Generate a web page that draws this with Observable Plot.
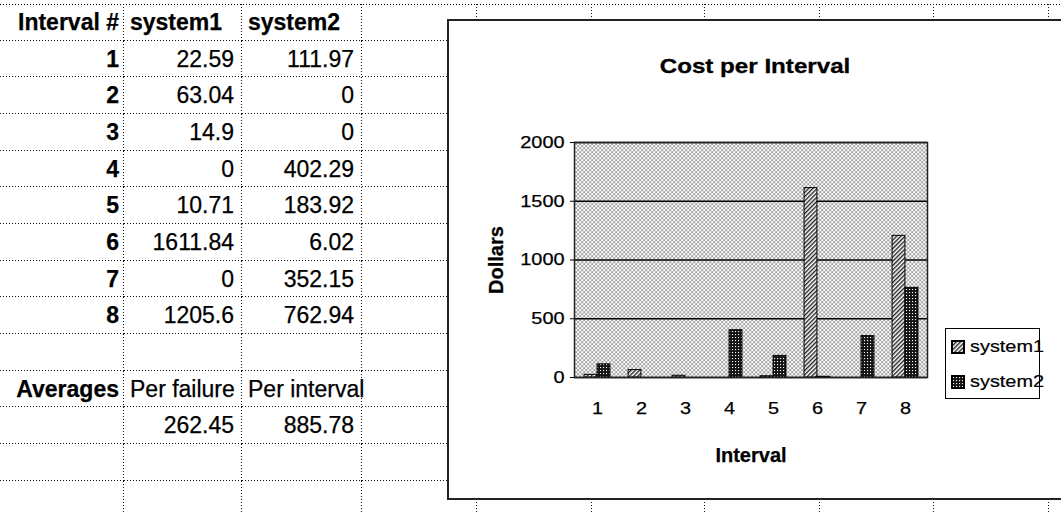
<!DOCTYPE html>
<html><head><meta charset="utf-8">
<script src="https://cdn.jsdelivr.net/npm/d3@7"></script>
<script src="https://cdn.jsdelivr.net/npm/@observablehq/plot@0.6"></script>
<style>
html,body{margin:0;padding:0;background:#fff;}
body{width:1061px;height:512px;overflow:hidden;position:relative;font-family:"Liberation Sans",Arial,sans-serif;color:#000;}
#sheet{position:absolute;left:0;top:4px;display:grid;
  grid-template-columns:124px 118px 120px 115px 115px 113px 115px 114px 115px 115px;
  grid-template-rows:37px 36px 37px 37px 36px 37px 37px 36px 37px 37px 36px 37px 37px 36px;
  background-image:linear-gradient(to right,#000 1px,transparent 1px);
  background-size:3px 1px;background-repeat:repeat-x;background-position:0 0;}
.cell{box-sizing:border-box;font-size:23px;display:flex;align-items:center;white-space:nowrap;
  padding:0 8px 0 6px;-webkit-text-stroke:0.25px #000;
  background-image:linear-gradient(to right,#111 1px,transparent 1px),linear-gradient(to bottom,#111 1px,transparent 1px);
  background-size:3px 1px,1px 3px;background-position:left bottom,right top;background-repeat:repeat-x,repeat-y;}
.c0{padding-right:5px;}
.r{justify-content:flex-end;}
.b{font-weight:bold;}
#chartbox{position:absolute;left:447px;top:19px;width:700px;height:481px;box-sizing:border-box;border:2px solid #222;border-right:none;background:#fff;}
#chartbox svg.plotsvg{position:absolute;left:0;top:0;}
#title{position:absolute;left:306px;top:34px;font-size:21px;line-height:21px;font-weight:bold;white-space:nowrap;transform:translateX(-50%) scaleX(1.15);-webkit-text-stroke:0.3px #000;}
#legbox{position:absolute;left:496px;top:307px;width:95px;height:71px;box-sizing:border-box;border:1px solid #000;background:#fff;padding:0 0 0 6px;}
.leg-swatches{font-family:"Liberation Sans",Arial,sans-serif;font-size:17px;margin:0 !important;color:#000;-webkit-text-stroke:0.2px #000;}
.leg-swatch{height:35px;padding-bottom:0 !important;}
.leg-swatch > svg{margin-right:6px !important;}
.leg-swatch svg rect{stroke:#000;stroke-width:2;}
.leg-swatch-label{transform:scaleX(1.17);transform-origin:left center;overflow:visible !important;}
.plotsvg text{stroke:#000;stroke-width:0.25px;}
[aria-label="x-axis label"] text,[aria-label="y-axis label"] text{font-weight:bold;font-size:20px;}
</style></head>
<body>
<div id="sheet"></div>
<div id="chartbox"><div id="title"></div><div id="legbox"></div></div>
<script>
// ---- data ----
const intervals = [1, 2, 3, 4, 5, 6, 7, 8];
const system1 = [22.59, 63.04, 14.9, 0, 10.71, 1611.84, 0, 1205.6];
const system2 = [111.97, 0, 0, 402.29, 183.92, 6.02, 352.15, 762.94];
const seriesNames = ["system1", "system2"];
const headerLabel = "Interval #";
const averagesLabel = "Averages";
const averageNames = ["Per failure", "Per interval"];
const averageValues = [262.45, 885.78];
const yTicks = [0, 500, 1000, 1500, 2000];
const chartTitle = "Cost per Interval";
const xLabel = "Interval";
const yLabel = "Dollars";

// ---- spreadsheet ----
const nCols = 10, nRows = 14;
const rows = [];
rows.push([{t: headerLabel, b: 1, r: 1}, {t: seriesNames[0], b: 1}, {t: seriesNames[1], b: 1}]);
intervals.forEach((iv, i) => rows.push([{t: iv, b: 1, r: 1}, {t: system1[i], r: 1}, {t: system2[i], r: 1}]));
rows.push([]);
rows.push([{t: averagesLabel, b: 1, r: 1}, {t: averageNames[0]}, {t: averageNames[1]}]);
rows.push([{}, {t: averageValues[0], r: 1}, {t: averageValues[1], r: 1}]);
while (rows.length < nRows) rows.push([]);
const sheet = document.getElementById("sheet");
rows.forEach(row => {
  for (let c = 0; c < nCols; c++) {
    const spec = row[c] || {};
    const d = document.createElement("div");
    d.className = "cell c" + c + (spec.r ? " r" : "") + (spec.b ? " b" : "");
    if (spec.t !== undefined) d.textContent = String(spec.t);
    sheet.appendChild(d);
  }
});

// ---- chart ----
const long = intervals.flatMap((iv, i) => [
  {interval: iv, series: seriesNames[0], value: system1[i]},
  {interval: iv, series: seriesNames[1], value: system2[i]}
]);
const W = 612, H = 477;
const mL = 125, mR = W - 478, mT = 121, mB = H - 356;
const bw = (W - mL - mR) / intervals.length;
const barW = 13, side = (bw - 2 * barW) / 2;

const chart = Plot.plot({
  width: W, height: H,
  marginLeft: mL, marginRight: mR, marginTop: mT, marginBottom: mB,
  className: "cp",
  style: {fontFamily: "Liberation Sans, Arial, sans-serif", fontSize: "17px", color: "#000", background: "transparent", overflow: "visible"},
  x: {type: "band", domain: intervals, padding: 0, label: xLabel, labelAnchor: "center", labelArrow: false, labelOffset: 84, tickSize: 0, tickPadding: 24},
  y: {domain: [0, 2000], ticks: yTicks, tickFormat: d => String(d), label: yLabel, labelAnchor: "center", labelArrow: false, labelOffset: 86, tickSize: 4, tickPadding: 6},
  color: {domain: seriesNames, range: ["url(#hatch1)", "url(#dots2)"]},
  marks: [
    Plot.frame({fill: "url(#bgdots)"}),
    Plot.gridY(yTicks, {stroke: "#000", strokeOpacity: 1, strokeWidth: 1.4}),
    Plot.barY(long.filter(d => d.series === seriesNames[0]), {x: "interval", y: "value", fill: "series", stroke: "#000", strokeWidth: 1, insetLeft: side, insetRight: side + barW}),
    Plot.barY(long.filter(d => d.series === seriesNames[1]), {x: "interval", y: "value", fill: "series", stroke: "#000", strokeWidth: 1, insetLeft: side + barW, insetRight: side}),
    Plot.frame({stroke: "#222", strokeWidth: 1.5})
  ]
});
chart.classList.add("plotsvg");
const defs = document.createElementNS("http://www.w3.org/2000/svg", "defs");
defs.innerHTML = `
<pattern id="bgdots" width="4" height="4" patternUnits="userSpaceOnUse">
  <rect width="4" height="4" fill="#fff"/>
  <rect x="0" y="0" width="1.25" height="1.25" fill="#111"/>
  <rect x="2" y="2" width="1.25" height="1.25" fill="#111"/>
</pattern>
<pattern id="hatch1" width="3" height="3" patternUnits="userSpaceOnUse" patternTransform="rotate(-45)">
  <rect width="3" height="3" fill="#fff"/>
  <rect width="3" height="1.4" fill="#222"/>
</pattern>
<pattern id="dots2" width="3" height="3" patternUnits="userSpaceOnUse">
  <rect width="3" height="3" fill="#141414"/>
  <rect x="1" y="1" width="1.1" height="1.1" fill="#fff"/>
</pattern>`;
chart.insertBefore(defs, chart.firstChild);
const box = document.getElementById("chartbox");
box.insertBefore(chart, box.firstChild);
document.getElementById("title").textContent = chartTitle;

// Excel-like horizontal stretch of chart tick text
chart.querySelectorAll('[aria-label="y-axis tick label"] text, [aria-label="x-axis tick label"] text').forEach(t => {
  const L = t.getComputedTextLength();
  t.setAttribute("textLength", L * 1.17);
  t.setAttribute("lengthAdjust", "spacingAndGlyphs");
});

const leg = Plot.legend({color: {domain: seriesNames, range: ["url(#hatch1)", "url(#dots2)"]}, columns: 1, className: "leg", swatchSize: 12});
document.getElementById("legbox").appendChild(leg);
</script>
</body></html>
